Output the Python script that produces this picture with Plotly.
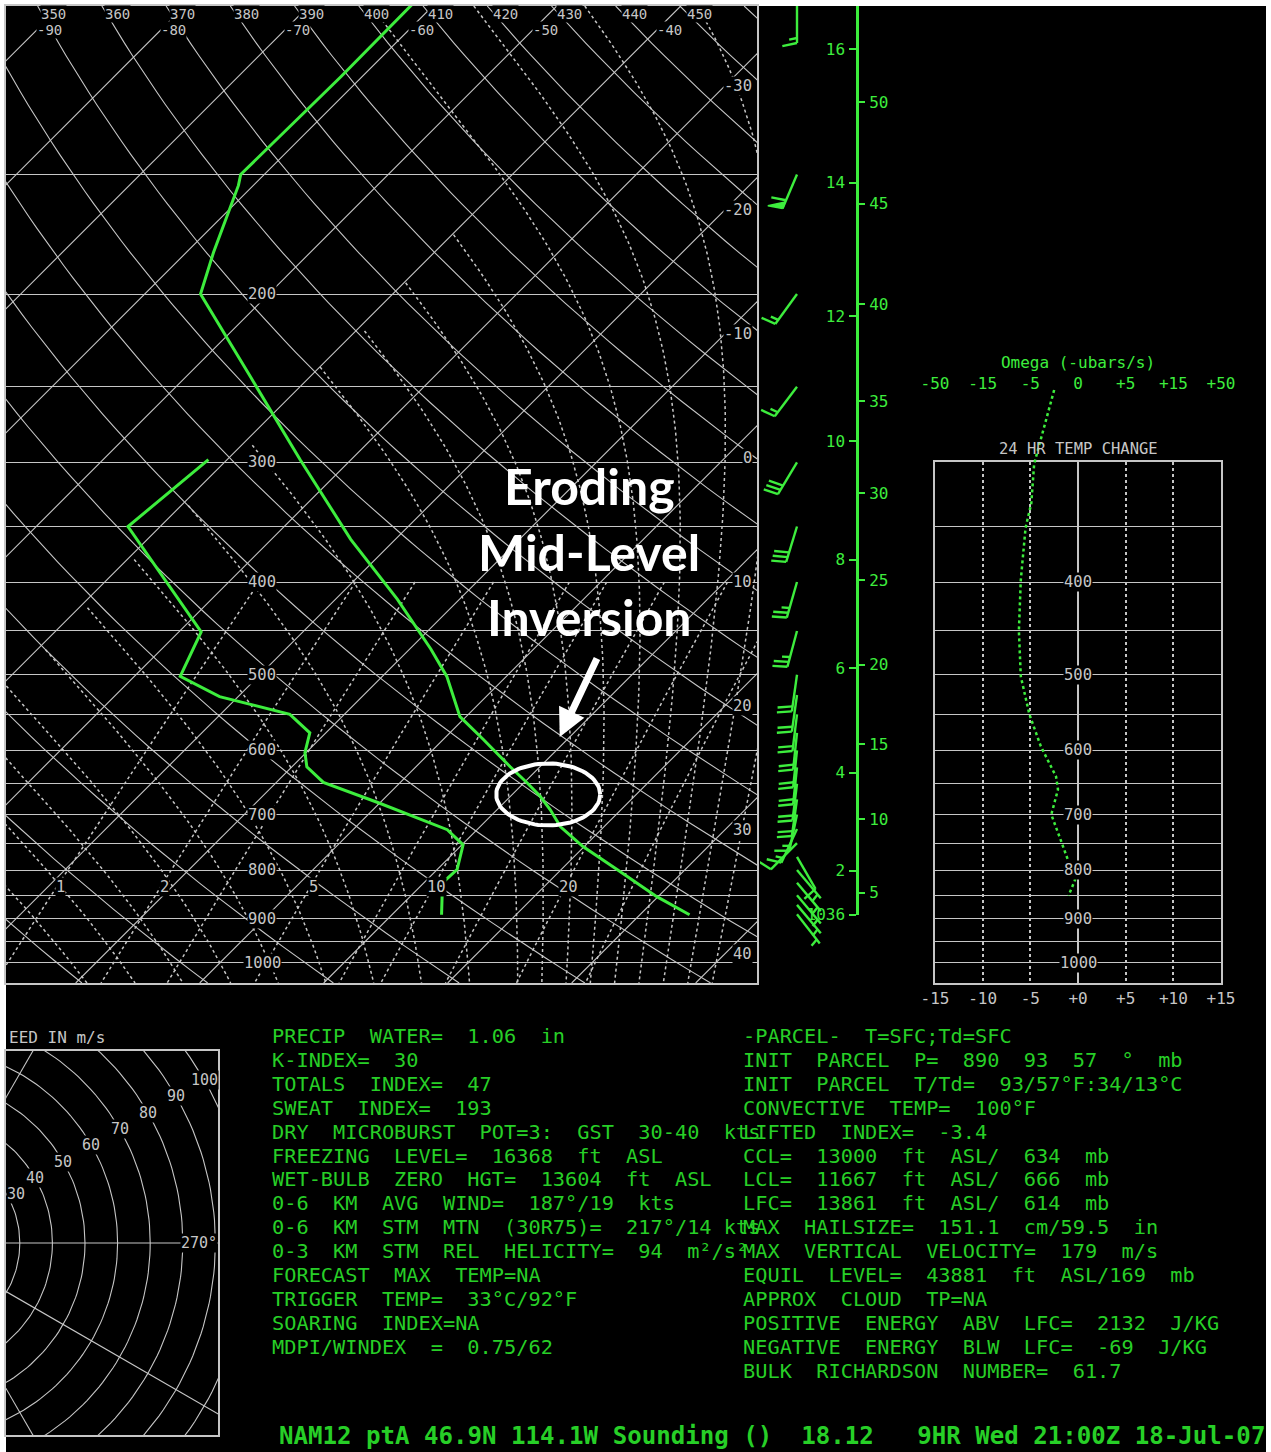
import numpy as np
import plotly.graph_objects as go

W, H = 1271, 1452

# ---------------------------------------------------------------- data
# temperature / dew point profile (hPa, deg C)
temp_p = [98, 118.5, 150, 154, 181, 200, 245, 298, 361, 417, 470, 502, 553, 584,
          624, 648, 670, 692, 721, 756, 799, 853, 891]
temp_c = [-61.8, -61.7, -61.9, -61.2, -57.8, -55.5, -44.6, -34.1, -23.6, -15.0, -8.3,
          -4.8, -0.5, 3.2, 7.6, 10.2, 12.4, 14.3, 16.5, 19.9, 24.5, 29.9, 34.0]
dewp_p = [298, 350, 451, 502, 527, 550, 575, 603, 624, 648, 680, 726, 753, 799, 825, 891]
dewp_c = [-41.5, -42.6, -28.2, -26.3, -21.5, -14.4, -11.3, -10.1, -8.8, -6.2, -0.2,
          7.6, 10.1, 11.6, 11.5, 14.0]

# wind barbs (hPa, direction deg, speed kt)
wind_p = [100, 150, 200, 250, 300, 350, 400, 450, 500, 525, 550, 575, 600, 625, 650,
          675, 700, 725, 750, 775, 800, 825, 850, 870, 890]
wind_dir = [180, 203, 216, 217, 211, 197, 196, 195, 188, 188, 187, 186, 186, 186, 187,
            188, 192, 205, 225, 150, 140, 140, 140, 140, 142]
wind_kt = [15, 60, 15, 15, 30, 30, 25, 25, 20, 20, 20, 20, 20, 20, 20, 20, 15, 15, 10,
           10, 5, 5, 5, 5, 5]

# height scale (km and kft) : pressure of each tick
km_labels = ['16', '14', '12', '10', '8', '6', '4', '2', '1036']
km_press = [111, 153, 211, 285, 379, 492, 633, 801, 891]
kft_labels = ['50', '45', '40', '35', '30', '25', '20', '15', '10', '5']
kft_press = [126, 161, 205, 259, 323, 398, 488, 591, 708, 845]
sfc_press = 891

# omega / 24 hr profile (value on the lower -15..+15 scale, hPa)
omega_p = [252, 301, 331, 351, 398, 450, 502, 550, 594, 639, 659, 680, 700, 745, 800, 819, 851]
omega_v = [-2.5, -4.6, -4.9, -5.5, -6.0, -6.2, -6.0, -5.1, -3.9, -2.3, -2.1, -2.5, -2.8,
           -1.8, -0.7, -0.3, -1.0]

# chart grids
isobars = [100] + list(range(150, 1051, 50))
isobar_labels = [200, 300, 400, 500, 600, 700, 800, 900, 1000]
isotherms = list(range(-130, 61, 10))
isotherm_top_labels = [-90, -80, -70, -60, -50, -40]
isotherm_side_labels = [-30, -20, -10, 0, 10, 20, 30, 40]
dry_thetas = list(range(250, 471, 10))
theta_labels = list(range(350, 451, 10))
moist_thetaw = [-12, -8, -4, 0, 4, 8, 12, 16, 20, 24, 26, 28, 30, 32, 34, 36, 38, 40]
moist_cutoff_c = -40          # cold end of the short moist adiabats
moist_full_from = 32          # theta-w from which moist adiabats run to the top
mix_ratios = [1, 2, 3, 5, 8, 10, 14, 20, 28]
mix_labels = [1, 2, 5, 10, 20]
panel_isobars = list(range(300, 1051, 50))
panel_labels = [400, 500, 600, 700, 800, 900, 1000]
hodo_rings = list(range(10, 160, 10))
hodo_ring_labels = [30, 40, 50, 60, 70, 80, 90, 100]
hodo_spokes = [-60, -30, 0, 60]

left_text = [
    "PRECIP  WATER=  1.06  in",
    "K-INDEX=  30",
    "TOTALS  INDEX=  47",
    "SWEAT  INDEX=  193",
    "DRY  MICROBURST  POT=3:  GST  30-40  kts",
    "FREEZING  LEVEL=  16368  ft  ASL",
    "WET-BULB  ZERO  HGT=  13604  ft  ASL",
    "0-6  KM  AVG  WIND=  187°/19  kts",
    "0-6  KM  STM  MTN  (30R75)=  217°/14 kts",
    "0-3  KM  STM  REL  HELICITY=  94  m²/s²",
    "FORECAST  MAX  TEMP=NA",
    "TRIGGER  TEMP=  33°C/92°F",
    "SOARING  INDEX=NA",
    "MDPI/WINDEX  =  0.75/62",
]
right_text = [
    "-PARCEL-  T=SFC;Td=SFC",
    "INIT  PARCEL  P=  890  93  57  °  mb",
    "INIT  PARCEL  T/Td=  93/57°F:34/13°C",
    "CONVECTIVE  TEMP=  100°F",
    "LIFTED  INDEX=  -3.4",
    "CCL=  13000  ft  ASL/  634  mb",
    "LCL=  11667  ft  ASL/  666  mb",
    "LFC=  13861  ft  ASL/  614  mb",
    "MAX  HAILSIZE=  151.1  cm/59.5  in",
    "MAX  VERTICAL  VELOCITY=  179  m/s",
    "EQUIL  LEVEL=  43881  ft  ASL/169  mb",
    "APPROX  CLOUD  TP=NA",
    "POSITIVE  ENERGY  ABV  LFC=  2132  J/KG",
    "NEGATIVE  ENERGY  BLW  LFC=  -69  J/KG",
    "BULK  RICHARDSON  NUMBER=  61.7",
]
title_text = "NAM12 ptA 46.9N 114.1W Sounding ()  18.12   9HR Wed 21:00Z 18-Jul-07"
callout_lines = ["Eroding", "Mid-Level", "Inversion"]
callout_center = dict(p=667, t=12.9)     # LCL / inversion
callout_arrow_tip = dict(p=581, t=9.2)

# ---------------------------------------------------------------- styling / geometry
MONO = 'DejaVu Sans Mono'
GRAY = '#c6c6c6'
LGREEN = '#3ded3d'
TGREEN = '#27cf27'

SK_L, SK_R, SK_T, SK_B = 6, 757, 6, 983      # skew-T plot box (px)
P_TOP, P_BOT = 100.0, 1050.0
PXLN = (SK_B - SK_T) / np.log(P_BOT / P_TOP)  # px per ln(p)
PX_PER_C = 12.4
X0_PX = 220.0
K = PXLN / PX_PER_C


def py(p):
    return SK_B - PXLN * np.log(P_BOT / p)


def fx(px):
    return px / W


def fy(pyy):
    return 1 - pyy / H


def skew(T, p):
    return np.asarray(T, float) + K * np.log(1000.0 / np.asarray(p, float))


def lg(p):
    return float(np.log10(p))


def joined(curves):
    xs, ys = [], []
    for cx, cy in curves:
        xs += list(cx) + [None]
        ys += list(cy) + [None]
    return xs, ys


def es(T):
    return 6.112 * np.exp(17.67 * T / (T + 243.5))


def dTdlnp(T, p):
    Rd, cp, L, eps = 287.04, 1005.7, 2.501e6, 0.622
    Tk = T + 273.15
    e = es(T)
    r = eps * e / (p - e)
    return (Rd * Tk + L * r) / (cp + L * L * r * eps / (Rd * Tk * Tk))


def moist(tw):
    out_p, out_t = [], []
    for end, n in ((np.log(P_TOP), 160), (np.log(P_BOT), 12)):
        lnp = np.linspace(np.log(1000.0), end, n)
        T = float(tw)
        ts = [T]
        for i in range(1, n):
            h = lnp[i] - lnp[i - 1]
            k1 = dTdlnp(T, np.exp(lnp[i - 1]))
            k2 = dTdlnp(T + 0.5 * h * k1, np.exp(lnp[i - 1] + 0.5 * h))
            T = T + h * k2
            ts.append(T)
        if end == np.log(P_TOP):
            out_p = list(np.exp(lnp[::-1])); out_t = ts[::-1]
        else:
            out_p += list(np.exp(lnp[1:])); out_t += ts[1:]
    return np.array(out_t), np.array(out_p)


def td_from_w(w, p):
    e = (w / 1000.0) * p / (0.622 + w / 1000.0)
    a = np.log(e / 6.112)
    return 243.5 * a / (17.67 - a)


traces = []
annots = []

# ---------------------------------------------------------------- skew-T grid
pp = np.geomspace(P_TOP, P_BOT, 80)
iso = [(skew([t, t], [P_TOP, P_BOT]), [P_TOP, P_BOT]) for t in isotherms]
x_, y_ = joined(iso)
traces.append(go.Scatter(x=x_, y=y_, mode='lines', line=dict(color=GRAY, width=1.1), hoverinfo='skip'))

dry = [(skew(th * (pp / 1000.0) ** 0.2857 - 273.15, pp), pp) for th in dry_thetas]
x_, y_ = joined(dry)
traces.append(go.Scatter(x=x_, y=y_, mode='lines', line=dict(color=GRAY, width=1.1), hoverinfo='skip'))

mst = []
for tw in moist_thetaw:
    tt, mp = moist(tw)
    keep = np.ones_like(tt, bool) if tw >= moist_full_from else tt >= moist_cutoff_c
    mst.append((skew(tt[keep], mp[keep]), mp[keep]))
x_, y_ = joined(mst)
traces.append(go.Scatter(x=x_, y=y_, mode='lines', line=dict(color=GRAY, width=1.5, dash='dot'), hoverinfo='skip'))

pm = np.geomspace(400, P_BOT, 30)
mix = [(skew(td_from_w(w, pm), pm), pm) for w in mix_ratios]
x_, y_ = joined(mix)
traces.append(go.Scatter(x=x_, y=y_, mode='lines', line=dict(color=GRAY, width=1.5, dash='dot'), hoverinfo='skip'))

# profiles
traces.append(go.Scatter(x=skew(temp_c, temp_p), y=temp_p, mode='lines',
                         line=dict(color=LGREEN, width=3), hoverinfo='skip'))
traces.append(go.Scatter(x=skew(dewp_c, dewp_p), y=dewp_p, mode='lines',
                         line=dict(color=LGREEN, width=3), hoverinfo='skip'))

# callout ellipse around the inversion
tt = np.linspace(0, 2 * np.pi, 90)
cX = skew(callout_center['t'], callout_center['p'])
ex = cX + (52 / PX_PER_C) * np.cos(tt)
ey = callout_center['p'] * np.exp((31 / PXLN) * np.sin(tt))
traces.append(go.Scatter(x=ex, y=ey, mode='lines', line=dict(color='white', width=4), hoverinfo='skip'))

lab_font = dict(family=MONO, size=15.5, color=GRAY)
top_font = dict(family=MONO, size=14, color=GRAY)


def axlab(x, y, text, xref='x', yref='y', xanchor='center', font=lab_font):
    return dict(x=x, y=y, xref=xref, yref=yref, text=text, showarrow=False, xanchor=xanchor,
                yanchor='middle', font=font, bgcolor='black', borderpad=0)


XLAB = (262 - X0_PX) / PX_PER_C
for p in isobar_labels:
    annots.append(axlab(XLAB, lg(p), str(p)))
p_iso_top = P_TOP * np.exp((30 - SK_T) / PXLN)
for t in isotherm_top_labels:
    annots.append(axlab(float(skew(t, p_iso_top)) + 1.0, lg(p_iso_top), str(t), font=top_font))
p_th_top = P_TOP * np.exp((14 - SK_T) / PXLN)
for th in theta_labels:
    tv = th * (p_th_top / 1000.0) ** 0.2857 - 273.15
    annots.append(axlab(float(skew(tv, p_th_top)) + 0.9, lg(p_th_top), str(th), font=top_font))
XR = (SK_R - X0_PX) / PX_PER_C
for t in isotherm_side_labels:
    pl = 1000.0 * np.exp(-(40.7 - t) / K)
    annots.append(axlab(XR - 0.3, lg(pl), str(t), xanchor='right'))
p_mix_lab = P_TOP * np.exp((887 - SK_T) / PXLN)
for w in mix_labels:
    annots.append(axlab(float(skew(td_from_w(w, p_mix_lab), p_mix_lab)) + 0.3, lg(p_mix_lab), str(w)))

# callout text + arrow
for i, s in enumerate(callout_lines):
    annots.append(dict(x=fx(589), y=fy(486 + 65.5 * i), xref='paper', yref='paper', text=s,
                       xanchor='center', yanchor='middle', showarrow=False,
                       font=dict(family='Lato', size=50, color='white', weight='bold')))
annots.append(dict(x=float(skew(callout_arrow_tip['t'], callout_arrow_tip['p'])),
                   y=lg(callout_arrow_tip['p']), xref='x', yref='y', text='', showarrow=True,
                   ax=38, ay=-80, arrowcolor='white', arrowwidth=7, arrowhead=2, arrowsize=0.8))

# ---------------------------------------------------------------- wind barbs (x2 / y2, x2 in px units)
BX, LST = 797, 37
bx_, by_, fx_, fy_ = [], [], [], []
for p, d, s in zip(wind_p, wind_dir, wind_kt):
    r = np.deg2rad(d)
    sx, sy = np.sin(r), -np.cos(r)
    ux, uy = -sy, sx
    tl = np.deg2rad(12)
    ux, uy = ux * np.cos(tl) + sx * np.sin(tl), uy * np.cos(tl) + sy * np.sin(tl)

    def P(dx, dy, p=p):
        return BX + dx, p * np.exp(dy / PXLN)

    a, b = P(0, 0), P(LST * sx, LST * sy)
    bx_ += [a[0], b[0], None]; by_ += [a[1], b[1], None]
    n50 = s // 50; rem = s - 50 * n50; n10 = rem // 10; n5 = (rem - 10 * n10) // 5
    pos = LST
    for _ in range(n50):
        q1 = P(pos * sx, pos * sy); q2 = P((pos - 7) * sx, (pos - 7) * sy)
        q3 = P(pos * sx + 15 * ux, pos * sy + 15 * uy)
        fx_ += [q1[0], q3[0], q2[0], q1[0], None]; fy_ += [q1[1], q3[1], q2[1], q1[1], None]
        pos -= 9
    for _ in range(n10):
        q1 = P(pos * sx, pos * sy); q2 = P(pos * sx + 15 * ux, pos * sy + 15 * uy)
        bx_ += [q1[0], q2[0], None]; by_ += [q1[1], q2[1], None]
        pos -= 5
    for _ in range(n5):
        if n10 == 0 and n50 == 0:
            pos -= 5
        q1 = P(pos * sx, pos * sy); q2 = P(pos * sx + 8 * ux, pos * sy + 8 * uy)
        bx_ += [q1[0], q2[0], None]; by_ += [q1[1], q2[1], None]
traces.append(go.Scatter(x=bx_, y=by_, xaxis='x2', yaxis='y2', mode='lines',
                         line=dict(color=LGREEN, width=2.4), hoverinfo='skip'))
if fx_:
    traces.append(go.Scatter(x=fx_, y=fy_, xaxis='x2', yaxis='y2', mode='lines', fill='toself',
                             fillcolor=LGREEN, line=dict(color=LGREEN, width=1.5), hoverinfo='skip'))

# ---------------------------------------------------------------- height scale (x3 / y3 / y4)
traces.append(go.Scatter(x=[None], y=[None], xaxis='x3', yaxis='y3', hoverinfo='skip'))
traces.append(go.Scatter(x=[None], y=[None], xaxis='x3', yaxis='y4', hoverinfo='skip'))

# ---------------------------------------------------------------- right panel (x5/y5 box, x6/y6 profile)
traces.append(go.Scatter(x=[None], y=[None], xaxis='x5', yaxis='y5', hoverinfo='skip'))
traces.append(go.Scatter(x=omega_v, y=omega_p, xaxis='x6', yaxis='y6', mode='lines',
                         line=dict(color=LGREEN, width=2.5, dash='dot'), hoverinfo='skip'))
for p in panel_labels:
    annots.append(axlab(0, lg(p), str(p), xref='x5', yref='y5'))
annots.append(dict(x=fx(1078), y=fy(449), xref='paper', yref='paper', text='24\u00a0HR\u00a0TEMP\u00a0CHANGE',
                   xanchor='center', yanchor='middle', showarrow=False, font=lab_font))

# ---------------------------------------------------------------- hodograph (x7 / y7)
HPX = 3.26
HCX, HCY = -78, 1243
th = np.linspace(0, 2 * np.pi, 240)
rings = [(r * np.cos(th), r * np.sin(th)) for r in hodo_rings]
rings += [([0, 200 * np.cos(np.deg2rad(a))], [0, 200 * np.sin(np.deg2rad(a))]) for a in hodo_spokes]
x_, y_ = joined(rings)
traces.append(go.Scatter(x=x_, y=y_, xaxis='x7', yaxis='y7', mode='lines',
                         line=dict(color=GRAY, width=1.1), hoverinfo='skip'))
hfont = dict(family=MONO, size=15, color=GRAY)
hx_rng = [(6 - HCX) / HPX, (218 - HCX) / HPX]
hy_rng = [(HCY - 1435) / HPX, (HCY - 1051) / HPX]
for r in hodo_ring_labels:
    lx = r * np.cos(np.deg2rad(30))
    ly = r * np.sin(np.deg2rad(30))
    if lx - 3.5 < hx_rng[0]:
        annots.append(axlab(hx_rng[0], ly, str(r), xref='x7', yref='y7', xanchor='left', font=hfont))
    else:
        annots.append(axlab(lx, ly, str(r), xref='x7', yref='y7', font=hfont))
annots.append(axlab(hx_rng[1], 0, '270°', xref='x7', yref='y7', xanchor='right', font=hfont))
annots.append(dict(x=fx(7), y=fy(1037), xref='paper', yref='paper', xanchor='left', yanchor='middle',
                   text='EED\u00a0IN\u00a0m/s', showarrow=False, font=dict(family=MONO, size=16, color=GRAY)))

# ---------------------------------------------------------------- text blocks
TFONT = dict(family=MONO, size=20.3, color=TGREEN)
for i, s in enumerate(left_text):
    annots.append(dict(x=fx(270), y=fy(1036 + 23.9 * i), xref='paper', yref='paper', xanchor='left',
                       yanchor='middle', text=s.replace(' ', '\u00a0'), showarrow=False, font=TFONT))
for i, s in enumerate(right_text):
    annots.append(dict(x=fx(741), y=fy(1036 + 23.9 * i), xref='paper', yref='paper', xanchor='left',
                       yanchor='middle', text=s.replace(' ', '\u00a0'), showarrow=False, font=TFONT))
annots.append(dict(x=fx(277), y=fy(1436), xref='paper', yref='paper', xanchor='left', yanchor='middle',
                   text=title_text.replace(' ', '\u00a0'), showarrow=False,
                   font=dict(family=MONO, size=24.1, color=TGREEN, weight='bold')))

# ---------------------------------------------------------------- layout
fig = go.Figure(traces)
noax = dict(visible=False, fixedrange=True)
y_main = dict(domain=[fy(SK_B), fy(SK_T)], type='log', range=[lg(P_BOT), lg(P_TOP)])
p5_top = 300
p6_top = P_BOT * np.exp(-(SK_B - 372) / PXLN)
fig.update_layout(
    template='none',
    width=W, height=H, autosize=False,
    margin=dict(l=0, r=0, t=0, b=0, pad=0, autoexpand=False),
    paper_bgcolor='white', plot_bgcolor='rgba(0,0,0,0)', showlegend=False,
    shapes=[dict(type='rect', xref='paper', yref='paper', x0=fx(6), x1=fx(1266), y0=0, y1=fy(6),
                 fillcolor='black', line=dict(width=0), layer='below')],
    xaxis=dict(domain=[fx(SK_L), fx(SK_R)], range=[(SK_L - X0_PX) / PX_PER_C, (SK_R - X0_PX) / PX_PER_C],
               showgrid=False, zeroline=False, showticklabels=False, ticks='', showline=True, mirror=True,
               linecolor=GRAY, linewidth=1.5, anchor='y', fixedrange=True, automargin=False),
    yaxis=dict(**y_main, tickmode='array', tickvals=isobars, showgrid=True, gridcolor=GRAY, gridwidth=1.1,
               showticklabels=False, ticks='', zeroline=False, showline=True, mirror=True,
               linecolor=GRAY, linewidth=1.5, anchor='x', fixedrange=True, automargin=False),
    xaxis2=dict(domain=[fx(760), fx(850)], range=[760, 850], anchor='y2', **noax),
    yaxis2=dict(**y_main, anchor='x2', **noax),
    xaxis3=dict(domain=[fx(860), fx(900)], range=[0, 1], anchor='y3', **noax),
    yaxis3=dict(domain=[fy(py(sfc_press)), fy(SK_T)], type='log', range=[lg(sfc_press), lg(P_TOP)],
                anchor='free', position=fx(857), side='left', showgrid=False, zeroline=False,
                showline=True, linecolor=LGREEN, linewidth=2.5, ticks='outside', ticklen=7,
                tickwidth=2, tickcolor=LGREEN, tickmode='array', tickvals=km_press, ticktext=km_labels,
                tickfont=dict(family=MONO, size=16, color=LGREEN), ticklabelstandoff=1, fixedrange=True,
                automargin=False),
    yaxis4=dict(type='log', range=[lg(sfc_press), lg(P_TOP)], overlaying='y3', anchor='free',
                position=fx(857), side='right', showgrid=False, zeroline=False, showline=False,
                ticks='outside', ticklen=7, tickwidth=2, tickcolor=LGREEN, tickmode='array',
                tickvals=kft_press, ticktext=kft_labels, tickfont=dict(family=MONO, size=16, color=LGREEN),
                ticklabelstandoff=1, fixedrange=True, automargin=False),
    xaxis5=dict(domain=[fx(935), fx(1221)], range=[-15, 15], anchor='y5', tickmode='array',
                tickvals=[-15, -10, -5, 0, 5, 10, 15], ticktext=['-15', '-10', '-5', '+0', '+5', '+10', '+15'],
                tickfont=dict(family=MONO, size=16, color=GRAY), ticks='', showgrid=True, gridcolor=GRAY,
                griddash='dot', gridwidth=1.5, zeroline=True, zerolinecolor=GRAY, zerolinewidth=1.5,
                showline=True, mirror=True, linecolor=GRAY, linewidth=1.5, fixedrange=True, automargin=False),
    yaxis5=dict(domain=[fy(SK_B), fy(py(p5_top))], type='log', range=[lg(P_BOT), lg(p5_top)], anchor='x5',
                tickmode='array', tickvals=panel_isobars, showticklabels=False, ticks='', showgrid=True,
                gridcolor=GRAY, gridwidth=1.2, zeroline=False, showline=True, mirror=True,
                linecolor=GRAY, linewidth=1.5, fixedrange=True, automargin=False),
    xaxis6=dict(domain=[fx(935), fx(1221)], range=[-15, 15], anchor='free', position=fy(392), side='top',
                tickmode='array', tickvals=[-15, -10, -5, 0, 5, 10, 15],
                ticktext=['-50', '-15', '-5', '0', '+5', '+15', '+50'],
                tickfont=dict(family=MONO, size=16, color=LGREEN), ticks='', showgrid=False, zeroline=False,
                showline=False, title=dict(text='Omega (-ubars/s)', font=dict(family=MONO, size=16, color=LGREEN),
                                           standoff=0), fixedrange=True, automargin=False),
    yaxis6=dict(domain=[fy(SK_B), fy(372)], type='log', range=[lg(P_BOT), lg(p6_top)], anchor='x6', **noax),
    xaxis7=dict(domain=[fx(6), fx(218)], range=hx_rng, anchor='y7', showgrid=False, zeroline=False,
                showticklabels=False, ticks='', showline=True, mirror=True, linecolor=GRAY, linewidth=1.5,
                fixedrange=True, automargin=False),
    yaxis7=dict(domain=[fy(1435), fy(1051)], range=hy_rng, anchor='x7', showgrid=False, zeroline=False,
                showticklabels=False, ticks='', showline=True, mirror=True, linecolor=GRAY, linewidth=1.5,
                fixedrange=True, automargin=False),
    annotations=annots,
)
fig.write_html("out.html",
               post_script="document.body.style.margin='0px';document.body.style.overflow='hidden';")
